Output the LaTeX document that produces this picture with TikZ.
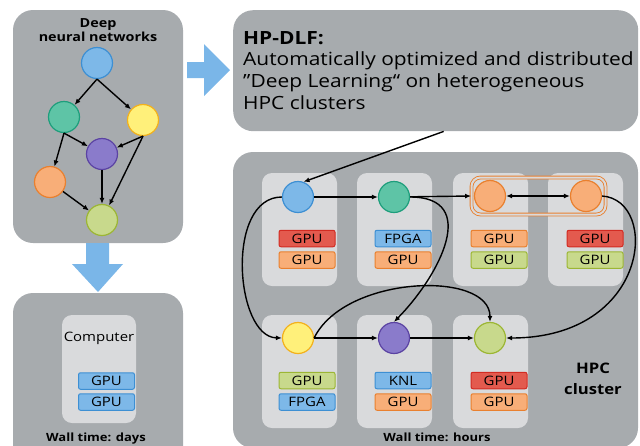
\documentclass[tikz,border=0pt]{standalone}
\usepackage{fontspec}
\setmainfont[FakeStretch=1.15]{Open Sans}
\usetikzlibrary{arrows.meta}

\definecolor{panelgray}{HTML}{A7ABAE}
\definecolor{slotgray}{HTML}{D9DADC}
\definecolor{arrowblue}{HTML}{7AB6E8}
\definecolor{bluefill}{HTML}{7DB8E8}\definecolor{blueline}{HTML}{3D8FD3}
\definecolor{tealfill}{HTML}{5EC4A6}\definecolor{tealline}{HTML}{1E9E7C}
\definecolor{yellowfill}{HTML}{FFF07A}\definecolor{yellowline}{HTML}{F3B11C}
\definecolor{purplefill}{HTML}{8A7BCB}\definecolor{purpleline}{HTML}{5B43A3}
\definecolor{orangefill}{HTML}{F8AE78}\definecolor{orangeline}{HTML}{E9802F}
\definecolor{limefill}{HTML}{C8D98C}\definecolor{limeline}{HTML}{9CB634}
\definecolor{redfill}{HTML}{E35A4E}\definecolor{redline}{HTML}{D22B22}

\begin{document}
\begin{tikzpicture}[x=1pt, y=1pt,
panel/.style={fill=panelgray, rounded corners=20pt},
slot/.style={fill=slotgray, rounded corners=10pt},
neuron/.style={circle, draw=#1line, fill=#1fill, line width=1.2pt, minimum size=31pt, inner sep=0pt},
chip/.style={draw=#1line, fill=#1fill, line width=1pt, rounded corners=2pt, minimum width=56pt, minimum height=16.5pt, inner sep=0pt, font=\fontsize{13}{13}\selectfont},
edge/.style={-{Latex[length=6pt,width=5pt]}, line width=1.4pt},
label/.style={font=\bfseries\fontsize{11.3}{14}\selectfont, align=center}]
\useasboundingbox (0,0) rectangle (640,-445);
\clip (0,0) rectangle (640,-445);

% panels
\fill[panel] (13,-10) rectangle (183,-243);
\fill[panel] (13,-293) rectangle (183,-470);
\node[panel, anchor=north west, minimum width=405pt, minimum height=121pt] (hpdlf) at (233,-10) {};
\fill[panel] (233,-152) rectangle (638,-448);

% big blue arrows
\fill[arrowblue] (187,-62) -- (204,-62) -- (204,-44) -- (230,-70) -- (204,-96) -- (204,-78) -- (187,-78) -- cycle;
\fill[arrowblue] (86,-243) -- (109,-243) -- (109,-264) -- (123,-264) -- (98,-292) -- (72,-264) -- (86,-264) -- cycle;

% deep neural network
\node[label, font=\bfseries\fontsize{12.5}{14}\selectfont] (dnn title) at (98,-30) {Deep\\neural networks};
\node[neuron=blue]   (nb) at (97,-63) {};
\node[neuron=teal]   (nt) at (64,-117) {};
\node[neuron=yellow] (ny) at (143,-120) {};
\node[neuron=purple] (np) at (102,-154) {};
\node[neuron=orange] (no) at (50,-182) {};
\node[neuron=lime]   (nl) at (102,-220) {};
\draw[edge] (nb.south) -- (nt);
\draw[edge] (nb.south) -- (ny);
\draw[edge] (nt.south) -- (no);
\draw[edge] (nt.south) -- (np);
\draw[edge] (ny.south) -- (np);
\draw[edge] (ny.south) -- (nl);
\draw[edge] (np) -- (nl);
\draw[edge] (no) -- (nl);

% single computer
\fill[slot] (62,-315) rectangle (136,-423);
\node[font=\fontsize{13}{13}\selectfont] (computer) at (99,-338) {Computer};
\node[chip=blue] (cg1) at (106.5,-381) {GPU};
\node[chip=blue] (cg2) at (106.5,-402) {GPU};
\node[label] (days) at (96,-439) {Wall time: days};

% HP-DLF text
\node[anchor=north west, align=left, inner sep=0pt, font=\fontsize{18.2}{21.7}\selectfont] (hpdlf text) at (243,-31)
  {\textbf{HP-DLF:}\\Automatically optimized and distributed\\''Deep Learning`` on heterogeneous\\HPC clusters};

% cluster slots
\foreach \x in {262,357,453,548}
  \fill[slot] (\x,-173) rectangle ++(75,-113);
\foreach \x in {262,357,453}
  \fill[slot] (\x,-315) rectangle ++(75,-113);

\node[draw=orangeline, double=slotgray, double distance=2pt, line width=0.9pt, rounded corners=9pt,
  minimum width=134pt, minimum height=37pt] (pair) at (538.5,-196) {};
\node[neuron=blue]   (b1) at (298,-197) {};
\node[neuron=teal]   (t1) at (394,-197) {};
\node[neuron=orange] (o1) at (490,-196) {};
\node[neuron=orange] (o2) at (586,-196) {};
\node[neuron=yellow] (y1) at (298,-338) {};
\node[neuron=purple] (p1) at (394,-338) {};
\node[neuron=lime]   (l1) at (490,-338) {};

\node[chip=red]    at (307,-238.5) {GPU};
\node[chip=orange] at (307,-260)   {GPU};
\node[chip=blue]   at (403,-238.5) {FPGA};
\node[chip=orange] at (403,-260)   {GPU};
\node[chip=orange] at (499,-238.5) {GPU};
\node[chip=lime]   at (499,-260)   {GPU};
\node[chip=red]    at (595,-238.5) {GPU};
\node[chip=lime]   at (595,-260)   {GPU};
\node[chip=lime]   at (307,-380.5) {GPU};
\node[chip=blue]   at (307,-402)   {FPGA};
\node[chip=blue]   at (403,-380.5) {KNL};
\node[chip=orange] at (403,-402)   {GPU};
\node[chip=red]    at (499,-380.5) {GPU};
\node[chip=orange] at (499,-402)   {GPU};

\node[label, font=\bfseries\fontsize{14.5}{21}\selectfont] (hpc) at (593,-379) {HPC\\cluster};
\node[label] (hours) at (437,-437) {Wall time: hours};

% data flow
\draw[edge] ([xshift=8pt]hpdlf.south) -- (b1.70);
\draw[edge] (b1) -- (t1);
\draw[edge] (t1) -- (pair.west);
\draw[{Latex[length=6pt,width=5pt]}-{Latex[length=6pt,width=5pt]}, line width=1.4pt] (o1) -- (o2);
\draw[edge] (b1.west) .. controls (225,-197) and (235,-337) .. (y1.west);
\draw[edge] (t1.east) .. controls (480,-197) and (440,-275) .. (p1.north);
\draw[edge] (o2.east) .. controls (660,-200) and (650,-338) .. (l1.east);
\draw[edge] (y1.east) .. controls (345,-275) and (490,-270) .. (l1.north);
\draw[edge] (y1) -- (p1);
\draw[edge] (p1) -- (l1);
\end{tikzpicture}
\end{document}
